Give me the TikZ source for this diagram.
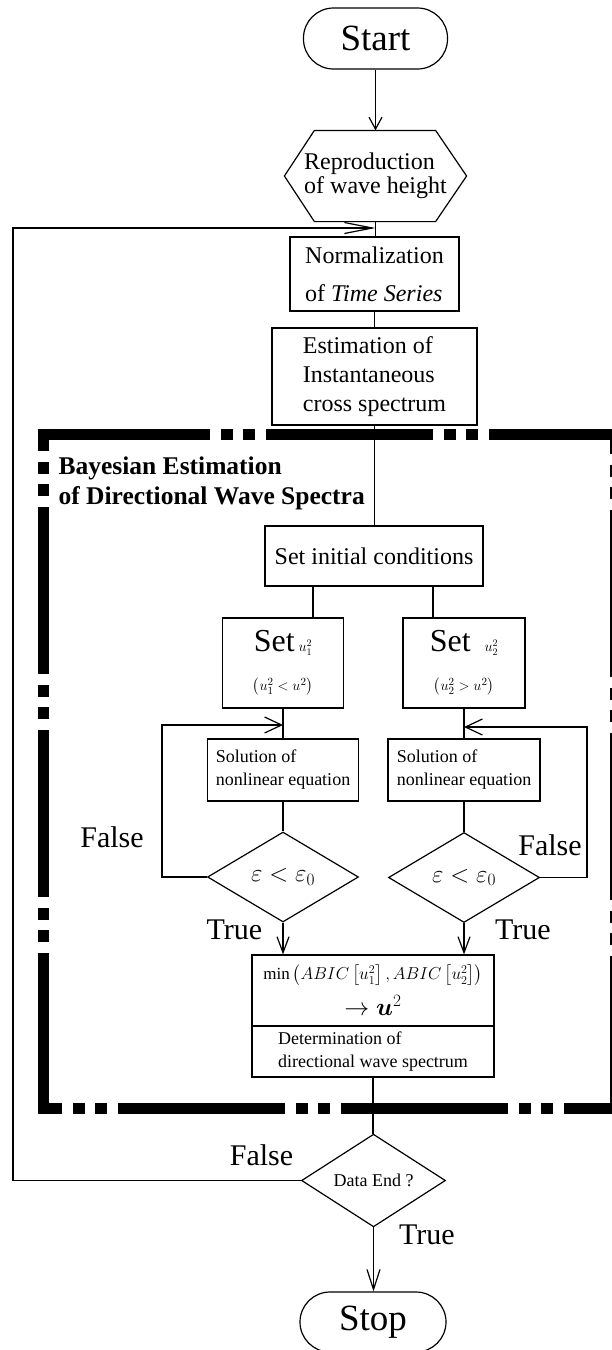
\documentclass[tikz,border=0pt]{standalone}
\usepackage{amsmath}
\usepackage{fontspec}
\setmainfont{Liberation Serif}
\usetikzlibrary{arrows.meta,shapes.geometric,calc}
\newcommand{\setfs}[2]{\fontsize{#1}{#2}\selectfont}

\begin{document}
\begin{tikzpicture}[x=1pt,y=-1pt,line width=1.2pt,
  box/.style={draw,rectangle,inner sep=0pt,align=left},
  term/.style={draw,rectangle,rounded corners=30pt,inner sep=0pt},
  dec/.style={draw,diamond,inner sep=0pt},
  lab/.style={inner sep=0pt,font=\setfs{30}{30}},
  bframe/.style={line width=11pt,line cap=butt,
    dash pattern=on 167pt off 11pt on 12pt off 10pt on 12pt off 11pt},
  tipA/.style={-{Straight Barb[length=12pt,width=13pt]}},
  tipT/.style={-{Straight Barb[length=16pt,width=12pt]}},
  tipL/.style={-{Straight Barb[length=17pt,width=16pt]}},
  tipF/.style={-{Straight Barb[length=28pt,width=11pt]}},
  tipS/.style={-{Straight Barb[length=20pt,width=13pt]}}]

\fill[white] (0,0) rectangle (611,1350);
\useasboundingbox (0,0) rectangle (611,1350);

% dash-dot-dot frame of the Bayesian estimation block
\draw[bframe] (43,434) -- (622,434);
\draw[bframe,dash phase=144.5pt] (43,428.5) -- (43,1113.5);
\draw[bframe,dash phase=148pt] (43,1108) -- (622,1108);
\draw[bframe,dash phase=141.5pt] (615.5,428.5) -- (615.5,1113.5);

\node[inner sep=0pt,anchor=west,align=left,font=\bfseries\setfs{25.5}{30}] (title) at (58,483)
  {Bayesian Estimation\\of Directional Wave Spectra};

% main column
\node[term,minimum width=144pt,minimum height=61pt,font=\setfs{37}{40}] (start) at (375.5,38.5) {Start};

\node[inner sep=0pt,minimum width=181pt,minimum height=90pt,align=left,font=\setfs{24}{24}] (rep) at (375.5,176)
  {Reproduction\\of wave height};
\draw ($(rep.north west)+(30,0)$) -- ($(rep.north east)+(-31,0)$) -- (rep.east)
  -- ($(rep.south east)+(-31,0)$) -- ($(rep.south west)+(30,0)$) -- (rep.west) -- cycle;

\node[box,minimum width=169pt,minimum height=74pt,font=\setfs{24}{38}] (norm) at (374.5,274)
  {Normalization\\of \textit{Time Series}};

\node[box,minimum width=205pt,minimum height=97pt,font=\setfs{24}{29}] (est) at (374.5,376.5)
  {Estimation of\\Instantaneous\\cross spectrum};

\node[box,minimum width=218pt,minimum height=60pt,font=\setfs{24}{28}] (init) at (374,556)
  {Set initial conditions};

% two branches
\node[box,minimum width=121pt,minimum height=90pt,align=center,font=\setfs{15}{39}] (set1) at (283,663)
  {{\setfs{32}{32}Set}\hspace{4pt}{\setfs{14}{14}$u_1^2$}\\$\left(u_1^2<u^2\right)$};
\node[box,minimum width=122pt,minimum height=90pt,align=center,font=\setfs{15}{39}] (set2) at (464,663)
  {{\setfs{32}{32}Set}\hspace{14pt}{\setfs{14}{14}$u_2^2$}\\$\left(u_2^2>u^2\right)$};

\node[box,minimum width=151pt,minimum height=62pt,font=\setfs{18}{23}] (sol1) at (283,770)
  {Solution of\\nonlinear equation};
\node[box,minimum width=152pt,minimum height=62pt,font=\setfs{18}{23}] (sol2) at (464,770)
  {Solution of\\nonlinear equation};

\node[dec,minimum width=151pt,minimum height=90pt,font=\setfs{25}{26}] (dia1) at (283,877)
  {$\varepsilon<\varepsilon_0$};
\node[dec,minimum width=151pt,minimum height=90pt,font=\setfs{25}{26}] (dia2) at (464,877.5)
  {$\varepsilon<\varepsilon_0$};

\node[box,minimum width=242pt,minimum height=71pt,align=center,font=\setfs{17}{36}] (mintop) at (373,990.5)
  {$\min\left(ABIC\left[u_1^2\right],ABIC\left[u_2^2\right]\right)$\\{\setfs{25}{25}$\rightarrow\boldsymbol{u}^2$}};
\node[box,minimum width=242pt,minimum height=51pt,font=\setfs{18}{23}] (det) at (373,1051.5)
  {Determination of\\directional wave spectrum};

\node[dec,minimum width=144pt,minimum height=85pt,font=\setfs{18}{20}] (dend) at (373.5,1180.5) {Data End ?};

\node[term,minimum width=146pt,minimum height=60pt,font=\setfs{37}{40}] (stop) at (373,1322) {Stop};

% branch labels
\node[lab] (f1) at (112,837) {False};
\node[lab] (f2) at (550,845) {False};
\node[lab] (t1) at (234.5,930) {True};
\node[lab] (t2) at (523,930) {True};
\node[lab] (f3) at (261.5,1155) {False};
\node[lab] (t3) at (427,1235) {True};

% connectors
\draw[tipA] (start.south) -- (start.south |- rep.north);
\draw (rep.south) -- (rep.south |- norm.north);
\draw (norm.south) -- (est.north);
\draw (est.south) -- (est.south |- init.north);
\draw ([xshift=-61pt]init.south) -- ([xshift=-61pt]init.south |- set1.north);
\draw ([xshift=59pt]init.south) -- ([xshift=59pt]init.south |- set2.north);
\draw (set1.south) -- (sol1.north);
\draw (set2.south) -- (sol2.north);
\draw (sol1.south) -- (dia1.north);
\draw (sol2.south) -- (dia2.north);

\coordinate (lp1) at (162,725);
\coordinate (lp2) at (587,727);
\draw[tipL] (dia1.west) -| (lp1) -- (lp1 -| set1.south);
\draw[tipL] (dia2.east) -| (lp2) -- (lp2 -| set2.south);

\draw[tipT] (dia1.south) -- (dia1.south |- mintop.north);
\draw[tipT] (dia2.south) -- (dia2.south |- mintop.north);

\draw (det.south) -- (det.south |- dend.north);
\draw[tipS] (dend.south) -- (dend.south |- stop.north);

\coordinate (fb) at (13,228);
\draw[tipF] (dend.west) -| (fb) -- (fb -| rep.south);
\end{tikzpicture}
\end{document}
